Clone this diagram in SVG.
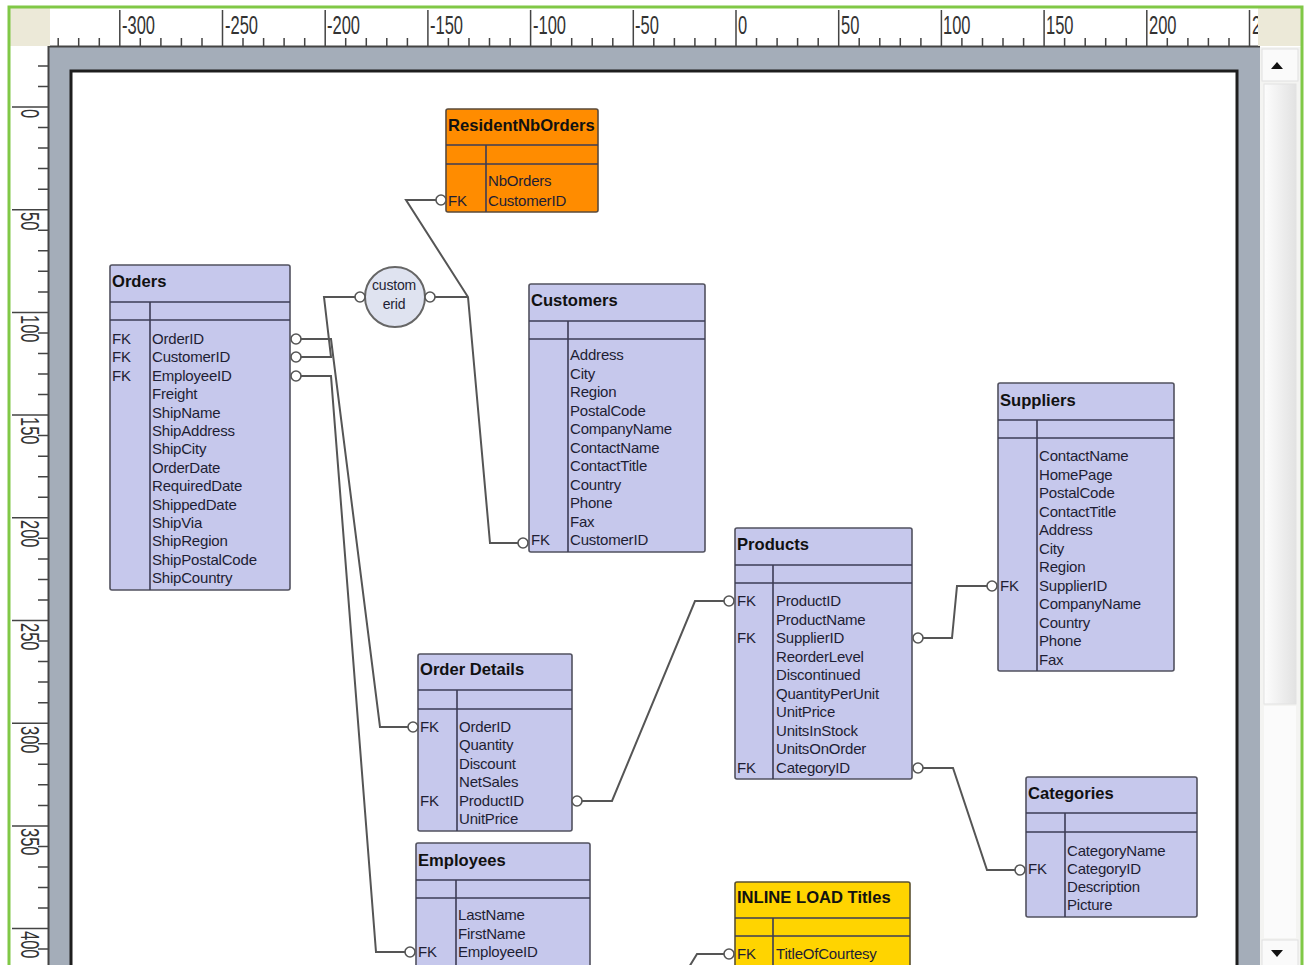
<svg xmlns="http://www.w3.org/2000/svg" width="1308" height="965" viewBox="0 0 1308 965">
<defs>
<style>
.tbl{fill:#c6c8ec;stroke:#52525f;stroke-width:1.6}
.org{fill:#ff8c00;stroke:#5a4a3a;stroke-width:1.6}
.yel{fill:#ffd400;stroke:#5a5030;stroke-width:1.6}
.ln{stroke:#3c3c55;stroke-width:1.6;fill:none}
.t{font-family:"Liberation Sans",Arial,sans-serif;font-size:15px;letter-spacing:-0.2px;fill:#1e1e34}
.h{font-family:"Liberation Sans",Arial,sans-serif;font-size:16.6px;font-weight:bold;fill:#111}
.con{fill:none;stroke:#555;stroke-width:2}
.mk{fill:#fff;stroke:#555;stroke-width:1.6}
.rl{font-family:"Liberation Sans",Arial,sans-serif;font-size:25px;fill:#333}
.tick{stroke:#444;stroke-width:1.5;fill:none}
</style>
<linearGradient id="thumb" x1="0" y1="0" x2="1" y2="0">
<stop offset="0" stop-color="#fdfdfd"/><stop offset="1" stop-color="#e2e2e2"/>
</linearGradient>
</defs>

<!-- frame -->
<rect x="0" y="0" width="1308" height="965" fill="#ffffff"/>
<rect x="48" y="46" width="1212" height="919" fill="#a4adb9"/>
<rect x="71" y="71" width="1166" height="920" fill="#ffffff" stroke="#1e1e1e" stroke-width="3"/>

<!-- top ruler -->
<g id="ruler-top">
<rect x="50" y="8" width="1210" height="38" fill="#ffffff"/>
<path class="tick" d="M58.2,38V46M78.7,38V46M99.3,38V46M119.8,10V46M140.3,38V46M160.9,38V46M181.4,38V46M202,38V46M222.5,10V46M243,38V46M263.6,38V46M284.1,38V46M304.7,38V46M325.2,10V46M345.7,38V46M366.3,38V46M386.8,38V46M407.4,38V46M427.9,10V46M448.4,38V46M469,38V46M489.5,38V46M510.1,38V46M530.6,10V46M551.1,38V46M571.7,38V46M592.2,38V46M612.8,38V46M633.3,10V46M653.8,38V46M674.4,38V46M694.9,38V46M715.5,38V46M736,10V46M756.5,38V46M777.1,38V46M797.6,38V46M818.2,38V46M838.7,10V46M859.2,38V46M879.8,38V46M900.3,38V46M920.9,38V46M941.4,10V46M961.9,38V46M982.5,38V46M1003,38V46M1023.6,38V46M1044.1,10V46M1064.6,38V46M1085.2,38V46M1105.7,38V46M1126.3,38V46M1146.8,10V46M1167.3,38V46M1187.9,38V46M1208.4,38V46M1229,38V46M1249.5,10V46"/>
<line x1="48" y1="46.5" x2="1260" y2="46.5" stroke="#444" stroke-width="2"/>
<text class="rl" transform="translate(122,34) scale(0.66,1)">-300</text>
<text class="rl" transform="translate(225,34) scale(0.66,1)">-250</text>
<text class="rl" transform="translate(327,34) scale(0.66,1)">-200</text>
<text class="rl" transform="translate(430,34) scale(0.66,1)">-150</text>
<text class="rl" transform="translate(533,34) scale(0.66,1)">-100</text>
<text class="rl" transform="translate(635,34) scale(0.66,1)">-50</text>
<text class="rl" transform="translate(738,34) scale(0.66,1)">0</text>
<text class="rl" transform="translate(841,34) scale(0.66,1)">50</text>
<text class="rl" transform="translate(943,34) scale(0.66,1)">100</text>
<text class="rl" transform="translate(1046,34) scale(0.66,1)">150</text>
<text class="rl" transform="translate(1149,34) scale(0.66,1)">200</text>
<text class="rl" transform="translate(1252,34) scale(0.66,1)">250</text>
</g>

<!-- left ruler -->
<g id="ruler-left">
<rect x="10" y="46" width="38" height="919" fill="#ffffff"/>
<path class="tick" d="M38,65.9H48M38,86.5H48M12,107H48M38,127.5H48M38,148.1H48M38,168.6H48M38,189.2H48M12,209.7H48M38,230.2H48M38,250.8H48M38,271.3H48M38,291.9H48M12,312.4H48M38,332.9H48M38,353.5H48M38,374H48M38,394.6H48M12,415.1H48M38,435.6H48M38,456.2H48M38,476.7H48M38,497.3H48M12,517.8H48M38,538.3H48M38,558.9H48M38,579.4H48M38,600H48M12,620.5H48M38,641H48M38,661.6H48M38,682.1H48M38,702.7H48M12,723.2H48M38,743.7H48M38,764.3H48M38,784.8H48M38,805.4H48M12,825.9H48M38,846.4H48M38,867H48M38,887.5H48M38,908.1H48M12,928.6H48M38,949.1H48"/>
<line x1="48.5" y1="46" x2="48.5" y2="965" stroke="#444" stroke-width="2"/>
<text class="rl" transform="translate(21,109) rotate(90) scale(0.66,1)">0</text>
<text class="rl" transform="translate(21,212) rotate(90) scale(0.66,1)">50</text>
<text class="rl" transform="translate(21,315) rotate(90) scale(0.66,1)">100</text>
<text class="rl" transform="translate(21,417) rotate(90) scale(0.66,1)">150</text>
<text class="rl" transform="translate(21,520) rotate(90) scale(0.66,1)">200</text>
<text class="rl" transform="translate(21,623) rotate(90) scale(0.66,1)">250</text>
<text class="rl" transform="translate(21,726) rotate(90) scale(0.66,1)">300</text>
<text class="rl" transform="translate(21,828) rotate(90) scale(0.66,1)">350</text>
<text class="rl" transform="translate(21,931) rotate(90) scale(0.66,1)">400</text>
</g>

<!-- corners -->
<rect x="10" y="8" width="40" height="38" fill="#ece9d8"/>
<rect x="1258" y="8" width="44" height="38" fill="#ece9d8"/>

<!-- scrollbar -->
<g id="scrollbar">
<rect x="1260" y="47" width="42" height="918" fill="#f4f4f2"/>
<rect x="1262" y="49" width="36" height="32" fill="#fafafa" stroke="#e0e0e0"/>
<path d="M1271,69 L1277,62 L1283,69 Z" fill="#111"/>
<rect x="1264" y="84" width="32" height="620" fill="url(#thumb)" stroke="#e2e2e2"/>
<rect x="1264" y="706" width="32" height="232" fill="#fbfbfb"/>
<rect x="1262" y="940" width="36" height="26" fill="#fafafa" stroke="#e0e0e0"/>
<path d="M1271,950 L1277,957 L1283,950 Z" fill="#111"/>
</g>

<!-- green border -->
<rect x="9" y="7" width="1293" height="962" fill="none" stroke="#80c846" stroke-width="3"/>

<!-- connectors -->
<g id="connectors">
<path class="con" d="M296,357 H331 L324,297 H360"/>
<path class="con" d="M296,339 H331 L380,727 H413"/>
<path class="con" d="M296,376 H331 L376,952 H410"/>
<path class="con" d="M430,297 H468"/>
<path class="con" d="M441,200 H406 L468,297 L490,543 H523"/>
<path class="con" d="M577,801 H612 L695,601 H729"/>
<path class="con" d="M918,638 H952 L957,586 H992"/>
<path class="con" d="M918,768 H953 L987,870 H1020"/>
<path class="con" d="M686,972 L697,954 H729"/>
</g>

<!-- key node -->
<g id="node-customerid">
<circle cx="395" cy="297" r="30" fill="#dfe3f0" stroke="#666" stroke-width="2"/>
<text class="t" x="394" y="290" text-anchor="middle" style="font-size:14px">custom</text>
<text class="t" x="394" y="309" text-anchor="middle" style="font-size:14px">erid</text>
</g>

<!-- ResidentNbOrders -->
<g id="table-residentnborders">
<rect class="org" x="446" y="109" width="152" height="103" rx="2"/>
<path class="ln" d="M446,145H598M446,164H598M486,145V212"/>
<text class="h" x="448" y="131">ResidentNbOrders</text>
<text class="t" x="488" y="186">NbOrders</text>
<text class="t" x="488" y="206">CustomerID</text>
<text class="t" x="448" y="206">FK</text>
</g>

<!-- Orders -->
<g id="table-orders">
<rect class="tbl" x="110" y="265" width="180" height="325" rx="2"/>
<path class="ln" d="M110,302H290M110,320H290M150,302V590"/>
<text class="h" x="112" y="287">Orders</text>
<text class="t" x="112" y="344">FK<tspan x="112" dy="18.4">FK</tspan><tspan x="112" dy="18.4">FK</tspan></text>
<text class="t" x="152" y="344">OrderID<tspan x="152" dy="18.4">CustomerID</tspan><tspan x="152" dy="18.4">EmployeeID</tspan><tspan x="152" dy="18.4">Freight</tspan><tspan x="152" dy="18.4">ShipName</tspan><tspan x="152" dy="18.4">ShipAddress</tspan><tspan x="152" dy="18.4">ShipCity</tspan><tspan x="152" dy="18.4">OrderDate</tspan><tspan x="152" dy="18.4">RequiredDate</tspan><tspan x="152" dy="18.4">ShippedDate</tspan><tspan x="152" dy="18.4">ShipVia</tspan><tspan x="152" dy="18.4">ShipRegion</tspan><tspan x="152" dy="18.4">ShipPostalCode</tspan><tspan x="152" dy="18.4">ShipCountry</tspan></text>
</g>

<!-- Customers -->
<g id="table-customers">
<rect class="tbl" x="529" y="284" width="176" height="268" rx="2"/>
<path class="ln" d="M529,321H705M529,339H705M568,321V552"/>
<text class="h" x="531" y="306">Customers</text>
<text class="t" x="570" y="360">Address<tspan x="570" dy="18.5">City</tspan><tspan x="570" dy="18.5">Region</tspan><tspan x="570" dy="18.5">PostalCode</tspan><tspan x="570" dy="18.5">CompanyName</tspan><tspan x="570" dy="18.5">ContactName</tspan><tspan x="570" dy="18.5">ContactTitle</tspan><tspan x="570" dy="18.5">Country</tspan><tspan x="570" dy="18.5">Phone</tspan><tspan x="570" dy="18.5">Fax</tspan><tspan x="570" dy="18.5">CustomerID</tspan></text>
<text class="t" x="531" y="545">FK</text>
</g>

<!-- Suppliers -->
<g id="table-suppliers">
<rect class="tbl" x="998" y="383" width="176" height="288" rx="2"/>
<path class="ln" d="M998,420H1174M998,438H1174M1037,420V671"/>
<text class="h" x="1000" y="406">Suppliers</text>
<text class="t" x="1039" y="461">ContactName<tspan x="1039" dy="18.5">HomePage</tspan><tspan x="1039" dy="18.5">PostalCode</tspan><tspan x="1039" dy="18.5">ContactTitle</tspan><tspan x="1039" dy="18.5">Address</tspan><tspan x="1039" dy="18.5">City</tspan><tspan x="1039" dy="18.5">Region</tspan><tspan x="1039" dy="18.5">SupplierID</tspan><tspan x="1039" dy="18.5">CompanyName</tspan><tspan x="1039" dy="18.5">Country</tspan><tspan x="1039" dy="18.5">Phone</tspan><tspan x="1039" dy="18.5">Fax</tspan></text>
<text class="t" x="1000" y="590.5">FK</text>
</g>

<!-- Products -->
<g id="table-products">
<rect class="tbl" x="735" y="528" width="177" height="251" rx="2"/>
<path class="ln" d="M735,565H912M735,583H912M773,565V779"/>
<text class="h" x="737" y="550">Products</text>
<text class="t" x="776" y="606">ProductID<tspan x="776" dy="18.5">ProductName</tspan><tspan x="776" dy="18.5">SupplierID</tspan><tspan x="776" dy="18.5">ReorderLevel</tspan><tspan x="776" dy="18.5">Discontinued</tspan><tspan x="776" dy="18.5">QuantityPerUnit</tspan><tspan x="776" dy="18.5">UnitPrice</tspan><tspan x="776" dy="18.5">UnitsInStock</tspan><tspan x="776" dy="18.5">UnitsOnOrder</tspan><tspan x="776" dy="18.5">CategoryID</tspan></text>
<text class="t" x="737" y="606">FK</text>
<text class="t" x="737" y="643">FK</text>
<text class="t" x="737" y="772.5">FK</text>
</g>

<!-- Order Details -->
<g id="table-orderdetails">
<rect class="tbl" x="418" y="654" width="154" height="177" rx="2"/>
<path class="ln" d="M418,690H572M418,709H572M457,690V831"/>
<text class="h" x="420" y="675">Order Details</text>
<text class="t" x="459" y="732">OrderID<tspan x="459" dy="18.4">Quantity</tspan><tspan x="459" dy="18.4">Discount</tspan><tspan x="459" dy="18.4">NetSales</tspan><tspan x="459" dy="18.4">ProductID</tspan><tspan x="459" dy="18.4">UnitPrice</tspan></text>
<text class="t" x="420" y="732">FK</text>
<text class="t" x="420" y="805.6">FK</text>
</g>

<!-- Employees -->
<g id="table-employees">
<rect class="tbl" x="416" y="843" width="174" height="140" rx="2"/>
<path class="ln" d="M416,880H590M416,898H590M456,880V983"/>
<text class="h" x="418" y="866">Employees</text>
<text class="t" x="458" y="920">LastName<tspan x="458" dy="18.5">FirstName</tspan><tspan x="458" dy="18.5">EmployeeID</tspan></text>
<text class="t" x="418" y="957">FK</text>
</g>

<!-- INLINE LOAD Titles -->
<g id="table-titles">
<rect class="yel" x="735" y="882" width="175" height="100" rx="2"/>
<path class="ln" d="M735,918H910M735,936H910M773,918V982"/>
<text class="h" x="737" y="903">INLINE LOAD Titles</text>
<text class="t" x="776" y="959">TitleOfCourtesy</text>
<text class="t" x="737" y="959">FK</text>
</g>

<!-- Categories -->
<g id="table-categories">
<rect class="tbl" x="1026" y="777" width="171" height="140" rx="2"/>
<path class="ln" d="M1026,813H1197M1026,832H1197M1065,813V917"/>
<text class="h" x="1028" y="799">Categories</text>
<text class="t" x="1067" y="856">CategoryName<tspan x="1067" dy="18">CategoryID</tspan><tspan x="1067" dy="18">Description</tspan><tspan x="1067" dy="18">Picture</tspan></text>
<text class="t" x="1028" y="874">FK</text>
</g>

<!-- connector end markers -->
<g id="markers">
<circle class="mk" cx="296" cy="339" r="5"/>
<circle class="mk" cx="296" cy="357" r="5"/>
<circle class="mk" cx="296" cy="376" r="5"/>
<circle class="mk" cx="360" cy="297" r="5"/>
<circle class="mk" cx="430" cy="297" r="5"/>
<circle class="mk" cx="441" cy="200" r="5"/>
<circle class="mk" cx="523" cy="543" r="5"/>
<circle class="mk" cx="413" cy="727" r="5"/>
<circle class="mk" cx="577" cy="801" r="5"/>
<circle class="mk" cx="729" cy="601" r="5"/>
<circle class="mk" cx="918" cy="638" r="5"/>
<circle class="mk" cx="992" cy="586" r="5"/>
<circle class="mk" cx="918" cy="768" r="5"/>
<circle class="mk" cx="1020" cy="870" r="5"/>
<circle class="mk" cx="410" cy="952" r="5"/>
<circle class="mk" cx="729" cy="954" r="5"/>
</g>
</svg>
